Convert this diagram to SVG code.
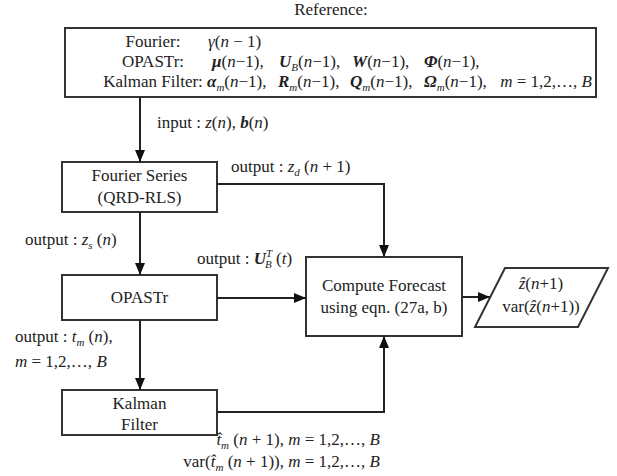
<svg xmlns="http://www.w3.org/2000/svg" width="617" height="476" viewBox="0 0 617 476" font-family="'Liberation Serif', 'Times New Roman', 'DejaVu Serif', serif">
<style>
.t{font-family:'Liberation Serif','Times New Roman','DejaVu Serif',serif;font-size:17px;fill:#222}
.i{font-style:italic}
.b{font-style:italic;font-weight:bold}
.s{font-size:11px}
.box{fill:#fff;stroke:#333;stroke-width:2}
.c{fill:none;stroke:#222;stroke-width:2;marker-end:url(#ah)}
.m{text-anchor:middle}
.e{text-anchor:end}
</style>
<defs>
<marker id="ah" viewBox="0 0 12 10" refX="12" refY="5" markerWidth="12" markerHeight="10" markerUnits="userSpaceOnUse" orient="auto">
<path d="M0,0 L12,5 L0,10 z" fill="#111"/>
</marker>
</defs>
<rect width="617" height="476" fill="#fff"/>
<text class="t m" x="331" y="15">Reference:</text>

<g id="state">
<rect class="box" x="65" y="28" width="531" height="69"/>
<text class="t m" x="153" y="47">Fourier:</text>
<text class="t m" x="153" y="67">OPASTr:</text>
<text class="t m" x="153" y="87">Kalman Filter:</text>
<text class="t" x="208" y="47"><tspan class="i">γ</tspan>(<tspan class="i">n</tspan> − 1)</text>
<text class="t" x="212" y="67"><tspan class="b">μ</tspan>(<tspan class="i">n</tspan>−1),</text>
<text class="t" x="279" y="67"><tspan class="b">U</tspan><tspan class="s i" dy="4">B</tspan><tspan dy="-4">(</tspan><tspan class="i">n</tspan>−1),</text>
<text class="t" x="352" y="67"><tspan class="b">W</tspan>(<tspan class="i">n</tspan>−1),</text>
<text class="t" x="424" y="67"><tspan class="b">Φ</tspan>(<tspan class="i">n</tspan>−1),</text>
<text class="t" x="207" y="87"><tspan class="b">α</tspan><tspan class="s i" dy="4">m</tspan><tspan dy="-4">(</tspan><tspan class="i">n</tspan>−1),</text>
<text class="t" x="278" y="87"><tspan class="b">R</tspan><tspan class="s i" dy="4">m</tspan><tspan dy="-4">(</tspan><tspan class="i">n</tspan>−1),</text>
<text class="t" x="350" y="87"><tspan class="b">Q</tspan><tspan class="s i" dy="4">m</tspan><tspan dy="-4">(</tspan><tspan class="i">n</tspan>−1),</text>
<text class="t" x="424" y="87"><tspan class="b">Ω</tspan><tspan class="s i" dy="4">m</tspan><tspan dy="-4">(</tspan><tspan class="i">n</tspan>−1),</text>
<text class="t e" x="592" y="87"><tspan class="i">m</tspan> = 1,2,…, <tspan class="i">B</tspan></text>
</g>

<g id="fourier">
<rect class="box" x="62" y="162" width="155" height="50"/>
<text class="t m" x="139.5" y="181">Fourier Series</text>
<text class="t m" x="139.5" y="203">(QRD-RLS)</text>
</g>

<g id="opastr">
<rect class="box" x="62" y="275" width="155" height="45"/>
<text class="t m" x="139.5" y="303">OPASTr</text>
</g>

<g id="kalman">
<rect class="box" x="62" y="390" width="155" height="45"/>
<text class="t m" x="139.5" y="409">Kalman</text>
<text class="t m" x="139.5" y="430">Filter</text>
</g>

<g id="compute">
<rect class="box" x="306" y="257" width="156" height="79"/>
<text class="t m" x="384" y="291">Compute Forecast</text>
<text class="t m" x="384" y="313">using eqn. (27a, b)</text>
</g>

<g id="result">
<path class="box" d="M505,268 H608 L578,327 H475 Z"/>
<text class="t m" x="541" y="289"><tspan class="i">ẑ</tspan>(<tspan class="i">n</tspan>+1)</text>
<text class="t m" x="541" y="312">var(<tspan class="i">ẑ</tspan>(<tspan class="i">n</tspan>+1))</text>
</g>

<g id="connectors">
<path class="c" d="M140,97 V162"/>
<path class="c" d="M217,184 H384 V257"/>
<path class="c" d="M140,212 V275"/>
<path class="c" d="M217,298 H306"/>
<path class="c" d="M462,297 H490"/>
<path class="c" d="M140,320 V390"/>
<path class="c" d="M217,412 H384 V336"/>
</g>

<g id="labels">
<text class="t" x="157" y="128">input : <tspan class="i">z</tspan>(<tspan class="i">n</tspan>), <tspan class="b">b</tspan>(<tspan class="i">n</tspan>)</text>
<text class="t" x="231" y="172">output : <tspan class="i">z</tspan><tspan class="s i" dy="4">d</tspan><tspan dy="-4"> (</tspan><tspan class="i">n</tspan> + 1)</text>
<text class="t" x="25" y="245">output :  <tspan class="i">z</tspan><tspan class="s i" dy="4">s</tspan><tspan dy="-4"> (</tspan><tspan class="i">n</tspan>)</text>
<text class="t" x="197" y="264">output :  <tspan class="b">U</tspan><tspan class="s i" dy="-7">T</tspan><tspan class="s i" dx="-7" dy="11">B</tspan><tspan dy="-4"> (</tspan><tspan class="i">t</tspan>)</text>
<text class="t" x="15" y="342">output : <tspan class="i">t</tspan><tspan class="s i" dy="4">m</tspan><tspan dy="-4"> (</tspan><tspan class="i">n</tspan>),</text>
<text class="t" x="15" y="367"><tspan class="i">m</tspan> = 1,2,…, <tspan class="i">B</tspan></text>
<text class="t e" x="380" y="445"><tspan class="i">t̂</tspan><tspan class="s i" dy="4">m</tspan><tspan dy="-4"> (</tspan><tspan class="i">n</tspan> + 1), <tspan class="i">m</tspan> = 1,2,…, <tspan class="i">B</tspan></text>
<text class="t e" x="380" y="467">var(<tspan class="i">t̂</tspan><tspan class="s i" dy="4">m</tspan><tspan dy="-4"> (</tspan><tspan class="i">n</tspan> + 1)), <tspan class="i">m</tspan> = 1,2,…, <tspan class="i">B</tspan></text>
</g>
</svg>
